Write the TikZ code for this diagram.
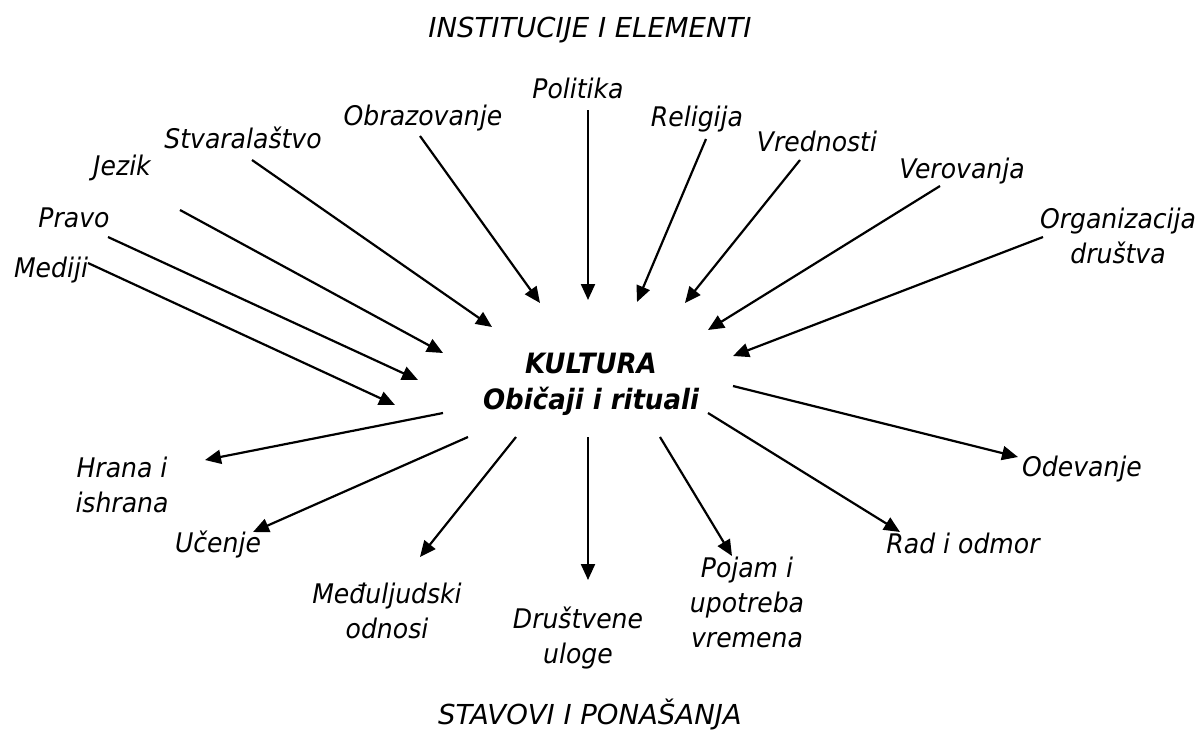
\documentclass[tikz,border=0pt]{standalone}
\usepackage{fontspec}
\setmainfont{DejaVu Sans}[FakeStretch=0.93]
\newfontfamily\capsfont{DejaVu Sans}
\usetikzlibrary{arrows.meta}

% stacked lines, baseline at the first line
\newcommand{\lbl}[1]{\begin{tabular}[t]{@{}c@{}}#1\end{tabular}}

\tikzset{
  itemtext/.style={anchor=base, inner sep=0pt, font=\fontsize{27}{35}\selectfont\itshape},
  heading/.style={anchor=base, inner sep=0pt, font=\fontsize{27.5}{35}\selectfont\capsfont\itshape},
  hub/.style={anchor=base, inner sep=0pt, font=\fontsize{28}{36}\selectfont\bfseries\itshape},
  link/.style={line width=2.2pt, -{Triangle[length=16pt,width=14pt]}},
}

\begin{document}
\begin{tikzpicture}[x=1pt,y=-1pt]
\path[use as bounding box, fill=white] (0,0) rectangle (1200,731);

% headings
\node[heading] (top) at (590,37) {INSTITUCIJE I ELEMENTI};
\node[heading] (bottom) at (590,724) {STAVOVI I PONAŠANJA};

% central node
\node[hub] (kultura) at (591,373) {\lbl{KULTURA\\Običaji i rituali}};

% institutions and elements
\node[itemtext] (mediji) at (51,277) {Mediji};
\node[itemtext] (pravo) at (74,227) {Pravo};
\node[itemtext] (jezik) at (122,175) {Jezik};
\node[itemtext] (stvar) at (243,148) {Stvaralaštvo};
\node[itemtext] (obraz) at (423,125) {Obrazovanje};
\node[itemtext] (polit) at (578,98) {Politika};
\node[itemtext] (relig) at (697,126) {Religija};
\node[itemtext] (vredn) at (817,151) {Vrednosti};
\node[itemtext] (verov) at (962,178) {Verovanja};
\node[itemtext] (organ) at (1118,228) {\lbl{Organizacija\\društva}};

% attitudes and behaviour
\node[itemtext] (hrana) at (122,477) {\lbl{Hrana i\\ishrana}};
\node[itemtext] (ucenje) at (218,552) {Učenje};
\node[itemtext] (medju) at (387,603) {\lbl{Međuljudski\\odnosi}};
\node[itemtext] (drustv) at (578,628) {\lbl{Društvene\\uloge}};
\node[itemtext] (pojam) at (747,577) {\lbl{Pojam i\\upotreba\\vremena}};
\node[itemtext] (rad) at (963,553) {Rad i odmor};
\node[itemtext] (odev) at (1082,476) {Odevanje};

% arrow end points
\coordinate (s-mediji) at (88,263);   \coordinate (e-mediji) at (395,405);
\coordinate (s-pravo) at (108,237);   \coordinate (e-pravo) at (418,380);
\coordinate (s-jezik) at (180,210);   \coordinate (e-jezik) at (443,353);
\coordinate (s-stvar) at (252,160);   \coordinate (e-stvar) at (492,327);
\coordinate (s-obraz) at (420,136);   \coordinate (e-obraz) at (540,303);
\coordinate (s-polit) at (588,110);   \coordinate (e-polit) at (588,300);
\coordinate (s-relig) at (706,139);   \coordinate (e-relig) at (637,302);
\coordinate (s-vredn) at (800,160);   \coordinate (e-vredn) at (685,303);
\coordinate (s-verov) at (940,186);   \coordinate (e-verov) at (708,330);
\coordinate (s-organ) at (1043,237);  \coordinate (e-organ) at (733,356);

\coordinate (s-hrana) at (443,413);   \coordinate (e-hrana) at (205,460);
\coordinate (s-ucenje) at (468,437);  \coordinate (e-ucenje) at (253,532);
\coordinate (s-medju) at (516,437);   \coordinate (e-medju) at (420,557);
\coordinate (s-drustv) at (588,437);  \coordinate (e-drustv) at (588,580);
\coordinate (s-pojam) at (660,437);   \coordinate (e-pojam) at (732,556);
\coordinate (s-rad) at (708,413);     \coordinate (e-rad) at (900,532);
\coordinate (s-odev) at (733,386);    \coordinate (e-odev) at (1018,457);

% incoming arrows
\foreach \n in {mediji,pravo,jezik,stvar,obraz,polit,relig,vredn,verov,organ}
  \draw[link] (s-\n) -- (e-\n);
% outgoing arrows
\foreach \n in {hrana,ucenje,medju,drustv,pojam,rad,odev}
  \draw[link] (s-\n) -- (e-\n);
\end{tikzpicture}
\end{document}
